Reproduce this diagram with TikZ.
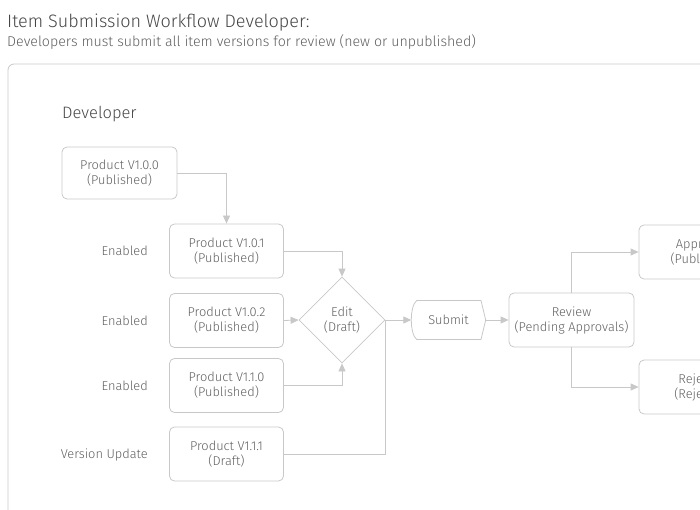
\documentclass[tikz,border=0pt]{standalone}
\usepackage{fontspec}
\setmainfont{Fira Sans Light}
\usetikzlibrary{arrows.meta,positioning,shapes.geometric}
\definecolor{linecolor}{RGB}{200,200,200}
\definecolor{textcolor}{RGB}{95,95,95}
\definecolor{titlecolor}{RGB}{70,70,70}

\begin{document}
\begin{tikzpicture}[x=1pt,y=-1pt,
    every node/.style={font=\fontsize{12.8}{15}\selectfont,text=textcolor},
    box/.style={draw=linecolor,line width=0.8pt,rounded corners=5pt,
                minimum width=114pt,minimum height=54pt,align=center,inner sep=0pt},
    lbl/.style={anchor=east,inner sep=0pt},
    flow/.style={draw=linecolor,line width=0.8pt},
    arr/.style={flow,-{Triangle[width=7pt,length=8pt]}}]

  \useasboundingbox (0,0) rectangle (700,510);
  \clip (0,0) rectangle (700,510);

  % Heading
  \node[anchor=base west,inner sep=0pt,text=titlecolor,
        font=\fontsize{18}{20}\selectfont] (title) at (7,28)
    {Item Submission Workflow Developer:};
  \node[anchor=base west,inner sep=0pt,font=\fontsize{14.2}{16}\selectfont]
    (subtitle) at (7,47)
    {Developers must submit all item versions for review (new or unpublished)};

  % Lane frame
  \draw[linecolor,line width=0.8pt,rounded corners=6pt] (8,64) rectangle (780,580);
  \node[anchor=base west,inner sep=0pt,text=titlecolor,
        font=\fontsize{16.5}{18}\selectfont] (lane) at (62,119) {Developer};

  % Item versions
  \node[box,minimum width=115pt,minimum height=52pt] (v100) at (119.5,173)
    {Product V1.0.0\\(Published)};
  \node[box] (v101) at (226.5,251) {Product V1.0.1\\(Published)};
  \node[box] (v102) at (226.5,320.5) {Product V1.0.2\\(Published)};
  \node[box] (v110) at (226.5,385.5) {Product V1.1.0\\(Published)};
  \node[box] (v111) at (226.5,454) {Product V1.1.1\\(Draft)};

  \node[lbl] (en1) at (148,251) {Enabled};
  \node[lbl] (en2) at (148,321) {Enabled};
  \node[lbl] (en3) at (148,386) {Enabled};
  \node[lbl] (upd) at (148,455) {Version Update};

  % Edit and submit
  \node[diamond,draw=linecolor,line width=0.8pt,minimum size=86pt,inner sep=0pt,
        align=center] (edit) at (342,320) {Edit\\(Draft)};
  \node[minimum width=74pt,minimum height=40pt,inner sep=0pt] (submit) at (448.5,320)
    {Submit};
  \draw[flow] (416.7,300.5) -- (481,300.5) -- (submit.east) -- (481,339.5)
    -- (416.7,339.5) .. controls (409.5,334) and (409.5,306) .. cycle;

  % Review and outcomes
  \node[box,minimum width=125pt] (review) at (571.5,320)
    {Review\\(Pending Approvals)};
  \node[box,minimum width=128pt] (approved) at (703,252) {Approved\\(Published)};
  \node[box,minimum width=128pt] (rejected) at (703,387) {Rejected\\(Rejected)};

  % Connectors
  \draw[arr] (v100.east) -| (v101.north);
  \draw[arr] (v101.east) -| (edit.north);
  \draw[arr] (v102.east) -- (edit.west);
  \draw[arr] (v110.east) -| (edit.south);
  \draw[flow] (v111.east) -| (edit.east);
  \draw[arr] (edit.east) -- (submit.west);
  \draw[arr] (submit.east) -- (review.west);
  \draw[arr] (review.north) |- (approved.west);
  \draw[arr] (review.south) |- (rejected.west);

\end{tikzpicture}
\end{document}
